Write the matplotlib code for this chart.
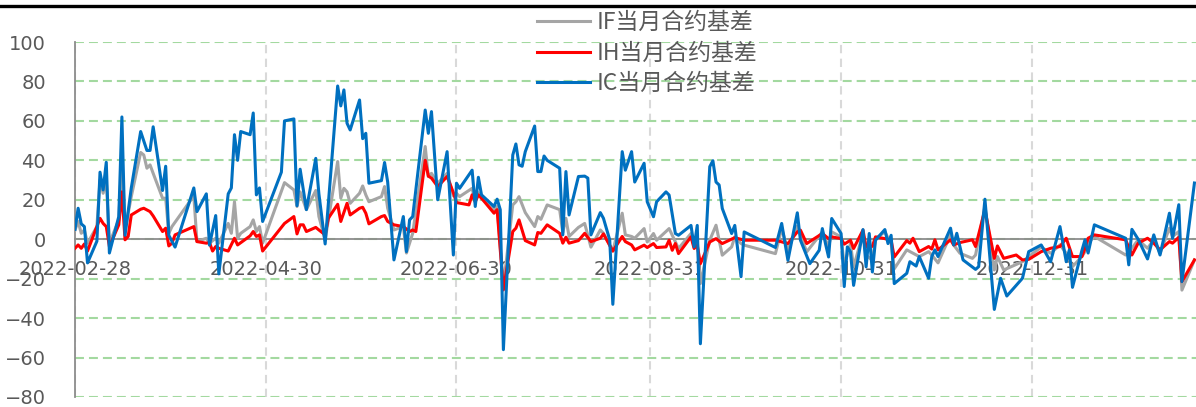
import pandas as pd
import matplotlib
matplotlib.use('Agg')
import matplotlib.pyplot as plt
import matplotlib.dates as mdates
from matplotlib.lines import Line2D

# IF当月合约基差
if_dates = ['2022-02-28', '2022-03-01', '2022-03-02', '2022-03-03', '2022-03-04', '2022-03-07', '2022-03-08', '2022-03-09',
            '2022-03-10', '2022-03-11', '2022-03-14', '2022-03-15', '2022-03-16', '2022-03-18', '2022-03-21', '2022-03-22',
            '2022-03-23', '2022-03-24', '2022-03-25', '2022-03-28', '2022-03-29', '2022-03-30', '2022-03-31', '2022-04-07',
            '2022-04-08', '2022-04-11', '2022-04-12', '2022-04-14', '2022-04-15', '2022-04-18', '2022-04-19', '2022-04-20',
            '2022-04-21', '2022-04-22', '2022-04-25', '2022-04-26', '2022-04-27', '2022-04-28', '2022-04-29', '2022-05-06',
            '2022-05-09', '2022-05-10', '2022-05-11', '2022-05-13', '2022-05-16', '2022-05-17', '2022-05-19', '2022-05-23',
            '2022-05-24', '2022-05-25', '2022-05-26', '2022-05-27', '2022-05-30', '2022-05-31', '2022-06-01', '2022-06-02',
            '2022-06-06', '2022-06-07', '2022-06-08', '2022-06-10', '2022-06-13', '2022-06-14', '2022-06-16', '2022-06-20',
            '2022-06-21', '2022-06-22', '2022-06-24', '2022-06-27', '2022-06-29', '2022-06-30', '2022-07-01', '2022-07-05',
            '2022-07-06', '2022-07-07', '2022-07-08', '2022-07-12', '2022-07-13', '2022-07-15', '2022-07-18', '2022-07-19',
            '2022-07-20', '2022-07-22', '2022-07-25', '2022-07-26', '2022-07-27', '2022-07-29', '2022-08-02', '2022-08-03',
            '2022-08-04', '2022-08-05', '2022-08-08', '2022-08-10', '2022-08-12', '2022-08-15', '2022-08-16', '2022-08-19',
            '2022-08-22', '2022-08-23', '2022-08-25', '2022-08-26', '2022-08-29', '2022-08-30', '2022-09-01', '2022-09-02',
            '2022-09-06', '2022-09-08', '2022-09-09', '2022-09-13', '2022-09-14', '2022-09-15', '2022-09-16', '2022-09-19',
            '2022-09-21', '2022-09-23', '2022-09-26', '2022-09-27', '2022-09-29', '2022-09-30', '2022-10-10', '2022-10-12',
            '2022-10-14', '2022-10-17', '2022-10-18', '2022-10-20', '2022-10-25', '2022-10-27', '2022-10-28', '2022-10-31',
            '2022-11-01', '2022-11-03', '2022-11-04', '2022-11-07', '2022-11-08', '2022-11-10', '2022-11-11', '2022-11-14',
            '2022-11-16', '2022-11-17', '2022-11-21', '2022-11-25', '2022-11-28', '2022-11-29', '2022-12-01', '2022-12-05',
            '2022-12-06', '2022-12-08', '2022-12-12', '2022-12-13', '2022-12-16', '2022-12-19', '2022-12-20', '2022-12-22',
            '2022-12-28', '2022-12-30', '2023-01-03', '2023-01-06', '2023-01-09', '2023-01-11', '2023-01-13', '2023-01-16',
            '2023-01-17', '2023-01-18', '2023-01-20', '2023-01-30', '2023-02-01', '2023-02-03', '2023-02-06', '2023-02-08',
            '2023-02-10', '2023-02-13', '2023-02-14', '2023-02-16', '2023-02-17', '2023-02-21']
if_vals = [4.7, 9, 3, 4.7, -2, 6.4, 30, 23.3,
           30, -2, 9.8, 42, 4.7, 21.6, 44, 42.7,
           36, 37.7, 33.4, 20.8, 20.8, 3, 6.4, 22,
           -1.2, 0.5, -2, 0.5, -2, 8, 3, 19,
           0.5, 3, 6.4, 9.8, 3.9, 6.4, -2, 28.7,
           25, 16.6, 24, 15, 24.7, 11.5, -0.3, 39.4,
           20.8, 25.8, 24, 18.2, 23.3, 27, 22.5, 19,
           21.6, 26.7, 15.7, 4.7, 6.4, -7, 3, 47,
           31.8, 33.4, 28.4, 33.4, 22, 23.3, 21.6, 25.8,
           19, 23.6, 20.8, 15, 16.6, -24, 17.4, 19,
           21.6, 13.5, 6.4, 11.5, 10.1, 17.4, 15, 3.4,
           10.6, 1.4, 6, 8, -4, 4.7, 3, -6,
           13.2, 2.2, 1.4, 0.5, 5.4, -1.4, 2.9, -0.5,
           5.4, -1.4, -4.7, 2.9, -3.9, -0.5, -22.5, -0.5,
           7.1, -8.1, -3.9, 1.2, -2.2, -3, -7.3, 5.4,
           -5.6, 6.6, 2, -6.4, 3.7, -3.9, 3.7, 1.2,
           -13.2, -2.2, -14, 2.9, -8.1, -10.7, 0.3, 3.7,
           -2.2, -15, -5.4, -8.8, -6.3, -8, -12, 2.2,
           -2.9, -7.1, -9.7, -8, 16.6, -15.6, -8.8, -15.6,
           -11.4, -8.8, -4, -7.1, -2.9, -7.1, -13.9, -8.8,
           -6.3, -2, 1.4, -8, -4.6, -0.3, -4.6, -0.3,
           -7.1, 5.6, 1.4, 3.9, -25.8, -10.5]

# IH当月合约基差
ih_dates = ['2022-02-28', '2022-03-01', '2022-03-02', '2022-03-03', '2022-03-04', '2022-03-08', '2022-03-09', '2022-03-10',
            '2022-03-11', '2022-03-14', '2022-03-15', '2022-03-16', '2022-03-17', '2022-03-18', '2022-03-21', '2022-03-22',
            '2022-03-24', '2022-03-25', '2022-03-28', '2022-03-29', '2022-03-30', '2022-03-31', '2022-04-01', '2022-04-07',
            '2022-04-08', '2022-04-11', '2022-04-12', '2022-04-13', '2022-04-14', '2022-04-15', '2022-04-18', '2022-04-20',
            '2022-04-21', '2022-04-25', '2022-04-26', '2022-04-27', '2022-04-28', '2022-04-29', '2022-05-06', '2022-05-09',
            '2022-05-10', '2022-05-11', '2022-05-12', '2022-05-13', '2022-05-16', '2022-05-17', '2022-05-19', '2022-05-20',
            '2022-05-23', '2022-05-24', '2022-05-26', '2022-05-27', '2022-05-30', '2022-05-31', '2022-06-01', '2022-06-02',
            '2022-06-06', '2022-06-07', '2022-06-08', '2022-06-10', '2022-06-13', '2022-06-15', '2022-06-16', '2022-06-17',
            '2022-06-20', '2022-06-21', '2022-06-22', '2022-06-24', '2022-06-27', '2022-06-29', '2022-06-30', '2022-07-04',
            '2022-07-05', '2022-07-06', '2022-07-07', '2022-07-08', '2022-07-12', '2022-07-13', '2022-07-15', '2022-07-18',
            '2022-07-19', '2022-07-20', '2022-07-22', '2022-07-25', '2022-07-26', '2022-07-27', '2022-07-29', '2022-08-02',
            '2022-08-03', '2022-08-04', '2022-08-05', '2022-08-08', '2022-08-10', '2022-08-12', '2022-08-15', '2022-08-16',
            '2022-08-19', '2022-08-22', '2022-08-23', '2022-08-25', '2022-08-26', '2022-08-29', '2022-08-30', '2022-09-01',
            '2022-09-02', '2022-09-05', '2022-09-06', '2022-09-07', '2022-09-08', '2022-09-09', '2022-09-13', '2022-09-14',
            '2022-09-15', '2022-09-16', '2022-09-19', '2022-09-21', '2022-09-23', '2022-09-27', '2022-09-30', '2022-10-10',
            '2022-10-14', '2022-10-17', '2022-10-18', '2022-10-20', '2022-10-25', '2022-10-27', '2022-10-28', '2022-10-31',
            '2022-11-01', '2022-11-03', '2022-11-04', '2022-11-07', '2022-11-08', '2022-11-10', '2022-11-11', '2022-11-14',
            '2022-11-16', '2022-11-17', '2022-11-21', '2022-11-22', '2022-11-23', '2022-11-25', '2022-11-28', '2022-11-29',
            '2022-11-30', '2022-12-01', '2022-12-05', '2022-12-06', '2022-12-08', '2022-12-12', '2022-12-13', '2022-12-16',
            '2022-12-19', '2022-12-20', '2022-12-22', '2022-12-26', '2022-12-28', '2022-12-30', '2023-01-03', '2023-01-06',
            '2023-01-09', '2023-01-11', '2023-01-13', '2023-01-16', '2023-01-17', '2023-01-18', '2023-01-20', '2023-01-30',
            '2023-02-01', '2023-02-03', '2023-02-06', '2023-02-08', '2023-02-10', '2023-02-13', '2023-02-14', '2023-02-16',
            '2023-02-17', '2023-02-21']
ih_vals = [-4.6, -2.9, -4.6, -2.4, -6, 10.6, 8, 6.4,
           -3.7, 7.3, 24, -0.3, 1.4, 12.3, 15.2, 15.7,
           14, 11.8, 3.9, 5.6, -3.4, -2, 2.2, 6.4,
           -1.2, -2, -1.7, -6, -3.7, -4.6, -6, 0.5,
           -2.9, 1.7, 3.9, 1.4, 2.2, -6, 8, 11.5,
           2.7, 7.3, 7.3, 3.9, 6, 4.7, 2.2, 10.6,
           17.7, 9, 18.2, 12.3, 15.7, 16.2, 13.2, 7.8,
           11.5, 12, 9, 7.3, 6.4, 3.9, 4.7, 3.9,
           40, 32, 31, 26.7, 31.8, 23.6, 18.6, 17.4,
           22.5, 19, 22.5, 20.8, 13.2, 15, -25.7, 3.9,
           5.6, 9.8, -0.7, -2.9, 3.4, 3, 7.3, 3,
           -2, 1, -2, -0.7, 3, -1.2, 0.5, 2.7,
           -6, 1.4, -1.2, -2.9, -5.4, -3, -4.2, -2.2,
           -4.2, -3.9, -0.5, -5.6, -2.2, -7.3, 1.2, -4.7,
           -3, -12.4, -1.4, 0.3, -2.2, 0.8, -0.5, -0.5,
           -2.2, 3.7, 4.6, -2.2, 2.9, 0.3, 1.2, 0.3,
           -2.5, -0.5, -4.7, 4.6, -3.9, -3.6, 1.2, 0.3,
           -0.5, -9, -0.7, -2, 0.5, -6.3, -3.7, -5,
           -0.3, -5.4, -0.3, -2.9, -1.7, -0.3, -3.7, 14.9,
           -9.7, -3.4, -9.7, -8, -10.5, -10.2, -6.3, -4.6,
           -3.7, 0.5, -8.8, -8.8, -4.6, 0.5, 2.2, -0.3,
           -8, -2, 0.5, -2, -5.4, -1.2, -2, 1,
           -21.5, -10.5]

# IC当月合约基差
ic_dates = ['2022-02-28', '2022-03-01', '2022-03-02', '2022-03-03', '2022-03-04', '2022-03-07', '2022-03-08', '2022-03-09',
            '2022-03-10', '2022-03-11', '2022-03-14', '2022-03-15', '2022-03-16', '2022-03-18', '2022-03-21', '2022-03-23',
            '2022-03-24', '2022-03-25', '2022-03-28', '2022-03-29', '2022-03-30', '2022-04-01', '2022-04-07', '2022-04-08',
            '2022-04-11', '2022-04-12', '2022-04-14', '2022-04-15', '2022-04-18', '2022-04-19', '2022-04-20', '2022-04-21',
            '2022-04-22', '2022-04-25', '2022-04-26', '2022-04-27', '2022-04-28', '2022-04-29', '2022-05-05', '2022-05-06',
            '2022-05-09', '2022-05-10', '2022-05-11', '2022-05-13', '2022-05-16', '2022-05-17', '2022-05-19', '2022-05-23',
            '2022-05-24', '2022-05-25', '2022-05-26', '2022-05-27', '2022-05-30', '2022-05-31', '2022-06-01', '2022-06-02',
            '2022-06-06', '2022-06-07', '2022-06-08', '2022-06-10', '2022-06-13', '2022-06-14', '2022-06-15', '2022-06-16',
            '2022-06-20', '2022-06-21', '2022-06-22', '2022-06-24', '2022-06-27', '2022-06-29', '2022-06-30', '2022-07-01',
            '2022-07-05', '2022-07-06', '2022-07-07', '2022-07-08', '2022-07-12', '2022-07-13', '2022-07-14', '2022-07-15',
            '2022-07-18', '2022-07-19', '2022-07-20', '2022-07-21', '2022-07-22', '2022-07-25', '2022-07-26', '2022-07-27',
            '2022-07-28', '2022-07-29', '2022-08-02', '2022-08-03', '2022-08-04', '2022-08-05', '2022-08-08', '2022-08-10',
            '2022-08-11', '2022-08-12', '2022-08-15', '2022-08-16', '2022-08-18', '2022-08-19', '2022-08-22', '2022-08-23',
            '2022-08-25', '2022-08-26', '2022-08-29', '2022-08-30', '2022-09-01', '2022-09-02', '2022-09-05', '2022-09-06',
            '2022-09-08', '2022-09-09', '2022-09-13', '2022-09-14', '2022-09-15', '2022-09-16', '2022-09-19', '2022-09-20',
            '2022-09-21', '2022-09-22', '2022-09-23', '2022-09-26', '2022-09-27', '2022-09-29', '2022-09-30', '2022-10-10',
            '2022-10-12', '2022-10-14', '2022-10-17', '2022-10-18', '2022-10-21', '2022-10-24', '2022-10-25', '2022-10-26',
            '2022-10-27', '2022-10-28', '2022-10-31', '2022-11-01', '2022-11-02', '2022-11-03', '2022-11-04', '2022-11-07',
            '2022-11-08', '2022-11-09', '2022-11-10', '2022-11-11', '2022-11-14', '2022-11-15', '2022-11-16', '2022-11-17',
            '2022-11-21', '2022-11-22', '2022-11-24', '2022-11-25', '2022-11-28', '2022-11-29', '2022-11-30', '2022-12-01',
            '2022-12-05', '2022-12-06', '2022-12-07', '2022-12-09', '2022-12-13', '2022-12-14', '2022-12-16', '2022-12-19',
            '2022-12-21', '2022-12-23', '2022-12-28', '2022-12-30', '2023-01-03', '2023-01-06', '2023-01-09', '2023-01-11',
            '2023-01-12', '2023-01-13', '2023-01-16', '2023-01-17', '2023-01-18', '2023-01-20', '2023-01-30', '2023-01-31',
            '2023-02-01', '2023-02-03', '2023-02-06', '2023-02-08', '2023-02-10', '2023-02-13', '2023-02-14', '2023-02-16',
            '2023-02-17', '2023-02-21']
ic_vals = [5, 15.7, 7.8, 6.4, -12, -1, 34, 25,
           39, -7, 11.5, 62, 2, 26, 54.6, 45,
           45, 57, 24.7, 37, 2, -4, 26, 14,
           23, -3, 12, -17.6, 23, 26, 53, 40,
           54.6, 53, 64, 22.5, 26, 9, 34, 60,
           61, 17, 35.5, 15, 41, 23, -2.4, 77.7,
           67.6, 75.7, 58.8, 55.4, 70.6, 51, 53.7, 28.4,
           29.7, 38.9, 29, -10.5, 11.5, -6.3, 9.8, 11.5,
           65.5, 53.7, 64.7, 20, 44.4, -8, 28.4, 25.8,
           35, 16.6, 31.4, 22.5, 16.6, 20.3, 15, -56,
           42.7, 48.3, 37.7, 37, 44.4, 57.4, 34.3, 34.3,
           42.2, 40, 36, 2.2, 34.3, 12.3, 31.8, 32,
           31, 2.2, 13.5, 10.6, -0.3, -33, 44.4, 35,
           44.4, 29, 38.5, 19, 11.4, 19, 24, 22.4,
           2.9, 2, 7, -3.9, 7, -53, 36.8, 39.8,
           29, 27.5, 15.6, 2.9, 7, -19, 3.7, -4.2,
           8, -10.7, 13.4, -0.5, -12.4, -5.6, 5.4, -2.2,
           -9, 10.5, 2.9, -24, -3.9, -6.4, -23.4, 4.9,
           -14, 2.9, -16.6, -0.5, 4.9, -2.2, 2, -22.5,
           -17.3, -11.4, -13.6, -8.8, -19.8, -8.8, -5.4, -8.8,
           5.6, -2.9, 3, -10.5, -15.3, -13.9, 20.3, -35.6,
           -19.8, -28.8, -19.8, -6.3, -2.9, -11.4, 6.4, -11.4,
           -5.4, -24.4, -5.8, -0.3, -7, 7.3, 0.5, -13,
           5, 0, -10, 2.2, -8, 13.2, 0.5, 17.5,
           -21.5, 28.5]

tick_dates = ['2022-02-28', '2022-04-30', '2022-06-30', '2022-08-31', '2022-10-31', '2022-12-31']

W, H = 1196, 407
fig = plt.figure(figsize=(W / 100, H / 100), dpi=100)
ax = fig.add_axes([75 / W, 10 / H, 1121 / W, 355 / H])

ax.plot(pd.to_datetime(if_dates), if_vals, color='#A5A5A5', lw=2.2, label='IF当月合约基差', zorder=3)
ax.plot(pd.to_datetime(ih_dates), ih_vals, color='#FF0000', lw=2.2, label='IH当月合约基差', zorder=4)
ax.plot(pd.to_datetime(ic_dates), ic_vals, color='#0070C0', lw=2.2, label='IC当月合约基差', zorder=5)

ax.set_ylim(-80, 100)
ax.set_yticks(range(-80, 101, 20))
ax.set_xlim(pd.Timestamp('2022-02-28'), pd.Timestamp('2023-02-21 12:00'))
ax.set_xticks(pd.to_datetime(tick_dates))
ax.xaxis.set_major_formatter(mdates.DateFormatter('%Y-%m-%d'))

ax.yaxis.grid(True, color='#A3D9A0', linestyle=(0, (4.3, 2.4)), linewidth=1.5)
ax.xaxis.grid(True, color='#D9D9D9', linestyle=(0, (4, 2.6)), linewidth=1.5)
ax.set_axisbelow(True)

for s in ['top', 'right']:
    ax.spines[s].set_visible(False)
ax.spines['left'].set_color('#8C8C8C')
ax.spines['left'].set_linewidth(1.3)
ax.spines['bottom'].set_position(('data', 0))
ax.spines['bottom'].set_color('#8C8C8C')
ax.spines['bottom'].set_linewidth(1.3)
ax.spines['bottom'].set_zorder(2)

ax.tick_params(axis='y', length=0, pad=21, labelsize=14, labelcolor='#595959')
ax.tick_params(axis='x', length=0, pad=15, labelsize=14, labelcolor='#595959')

# top rule under the cut-off title
fig.add_artist(Line2D([0, 1], [1 - 5.5 / H, 1 - 5.5 / H], transform=fig.transFigure, color='black', lw=2.4))

fig.legend(loc='upper left', bbox_to_anchor=(537 / W, 1 - 11 / H), frameon=False,
           prop={'family': ['Noto Sans CJK SC', 'DejaVu Sans'], 'size': 16.5},
           labelcolor='#595959', handlelength=2.3, handletextpad=0.3, labelspacing=0.33,
           borderpad=0, borderaxespad=0)

fig.savefig('out.png', dpi=100)
